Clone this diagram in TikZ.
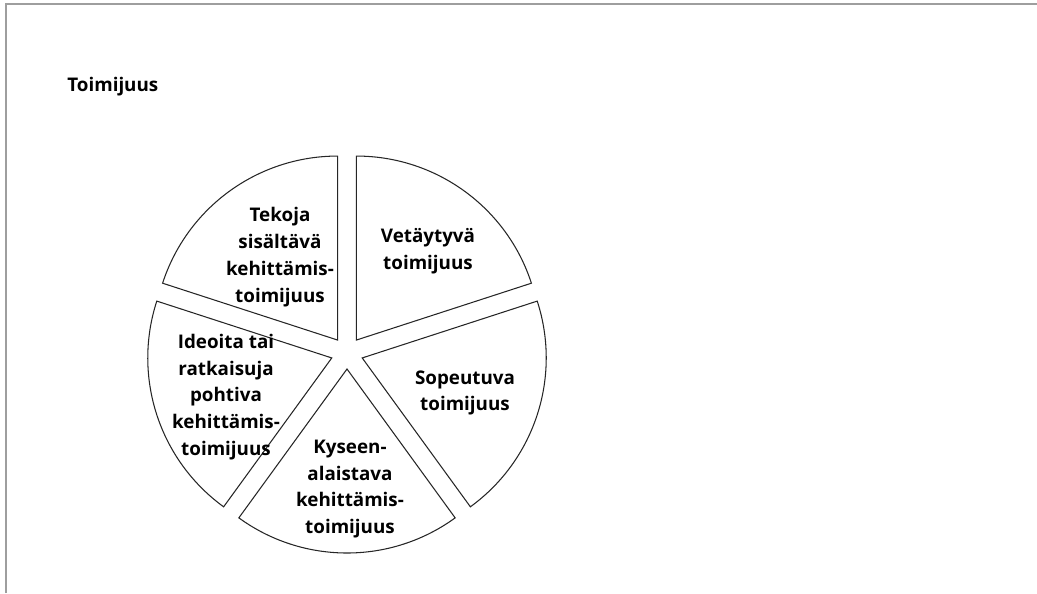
\documentclass[tikz,border=0pt]{standalone}
\usepackage{fontspec}
\setmainfont{Open Sans}

\tikzset{
	slice/.style={draw=black!85, line width=0.6pt, fill=white},
	sliceText/.style={font=\fontsize{10.7}{15.3}\selectfont\bfseries, align=center, inner sep=0pt},
	frameLine/.style={draw=black!38, line width=1.2pt}
}

\begin{document}
\begin{tikzpicture}[x=0.02cm, y=0.02cm]
	\useasboundingbox (0,0) rectangle (1037,593);
	\draw[frameLine] (6,0) -- (6,589) -- (1037,589);
	\node[sliceText, anchor=west] (title) at (67,506) {Toimijuus};
	\begin{scope}[shift={(347,240)}]
		% five exploded slices, 72 degrees each
		\draw[slice] (54:16) -- ++(90:184) arc[start angle=90, end angle=18, radius=184] -- cycle;
		\draw[slice] (-18:16) -- ++(18:184) arc[start angle=18, end angle=-54, radius=184] -- cycle;
		\draw[slice] (-90:16) -- ++(-54:184) arc[start angle=-54, end angle=-126, radius=184] -- cycle;
		\draw[slice] (198:16) -- ++(234:184) arc[start angle=234, end angle=162, radius=184] -- cycle;
		\draw[slice] (126:16) -- ++(162:184) arc[start angle=162, end angle=90, radius=184] -- cycle;
		\node[sliceText] (vetaytyva) at (81,102) {Vetäytyvä\\toimijuus};
		\node[sliceText] (sopeutuva) at (118,-40) {Sopeutuva\\toimijuus};
		\node[sliceText] (kyseen) at (3,-136) {Kyseen-\\alaistava\\kehittämis-\\toimijuus};
		\node[sliceText] (ideoita) at (-121,-44) {Ideoita tai\\ratkaisuja\\pohtiva\\kehittämis-\\toimijuus};
		\node[sliceText] (tekoja) at (-67,96) {Tekoja\\sisältävä\\kehittämis-\\toimijuus};
	\end{scope}
\end{tikzpicture}
\end{document}
